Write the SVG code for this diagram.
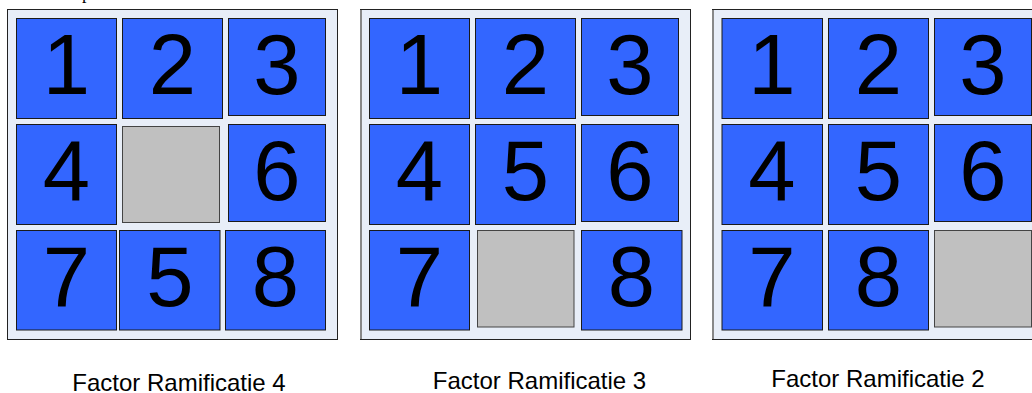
<svg xmlns="http://www.w3.org/2000/svg" width="1032" height="393" viewBox="0 0 1032 393">
<style>
.board{fill:#E8EEF8;stroke:#222;stroke-width:1}
.edge{stroke:#888;stroke-width:2}
.tile{fill:#3366FF;stroke:#1a1a1a;stroke-width:1}
.blank{fill:#C0C0C0;stroke:#444;stroke-width:1}
.num{font-family:"Liberation Sans",Arial,sans-serif;font-size:85px;fill:#000;text-anchor:middle}
.lbl{font-family:"Liberation Sans",Arial,sans-serif;font-size:24px;fill:#000;text-anchor:middle}
</style>
<rect width="1032" height="393" fill="#fff"/>
<text x="82" y="-1" font-family="Liberation Serif,serif" font-size="18" fill="#000">p</text>

<g id="board1">
<rect class="board" x="7.5" y="9.5" width="330" height="330"/>
<g id="b1t1"><rect class="tile" x="16.5" y="18.5" width="100" height="100"/><text class="num" x="66.5" y="94">1</text></g>
<g id="b1t2"><rect class="tile" x="122.5" y="18.5" width="100" height="100"/><text class="num" x="172.5" y="94">2</text></g>
<g id="b1t3"><rect class="tile" x="228.5" y="18.5" width="97" height="97"/><text class="num" x="277" y="94">3</text></g>
<g id="b1t4"><rect class="tile" x="16.5" y="124.5" width="100" height="100"/><text class="num" x="66.5" y="200">4</text></g>
<g id="b1blank"><rect class="blank" x="122.5" y="126.5" width="97" height="96"/></g>
<g id="b1t6"><rect class="tile" x="228.5" y="124.5" width="97" height="97"/><text class="num" x="277" y="200">6</text></g>
<g id="b1t7"><rect class="tile" x="16.5" y="230.5" width="100" height="99.5"/><text class="num" x="66.5" y="306">7</text></g>
<g id="b1t5"><rect class="tile" x="119.5" y="230.5" width="100.5" height="99.5"/><text class="num" x="170" y="306">5</text></g>
<g id="b1t8"><rect class="tile" x="225.5" y="230.5" width="100" height="99.5"/><text class="num" x="275.5" y="306">8</text></g>
</g>

<g id="board2">
<rect class="board" x="360.5" y="9.5" width="330" height="330"/>
<line class="edge" x1="361" y1="10" x2="361" y2="339"/>
<g id="b2t1"><rect class="tile" x="369.5" y="18.5" width="100" height="100"/><text class="num" x="419.5" y="94">1</text></g>
<g id="b2t2"><rect class="tile" x="475.5" y="18.5" width="100" height="100"/><text class="num" x="525.5" y="94">2</text></g>
<g id="b2t3"><rect class="tile" x="581.5" y="18.5" width="97" height="97"/><text class="num" x="630" y="94">3</text></g>
<g id="b2t4"><rect class="tile" x="369.5" y="124.5" width="100" height="100"/><text class="num" x="419.5" y="200">4</text></g>
<g id="b2t5"><rect class="tile" x="475.5" y="124.5" width="100" height="100"/><text class="num" x="525.5" y="200">5</text></g>
<g id="b2t6"><rect class="tile" x="581.5" y="124.5" width="97" height="97"/><text class="num" x="630" y="200">6</text></g>
<g id="b2t7"><rect class="tile" x="369.5" y="230.5" width="100" height="99.5"/><text class="num" x="419.5" y="306">7</text></g>
<g id="b2blank"><rect class="blank" x="477.5" y="230.5" width="96.5" height="96.5"/></g>
<g id="b2t8"><rect class="tile" x="581.5" y="230.5" width="100.5" height="99.5"/><text class="num" x="631.5" y="306">8</text></g>
</g>

<g id="board3">
<rect class="board" x="712.5" y="9.5" width="330" height="330"/>
<line class="edge" x1="713" y1="10" x2="713" y2="339"/>
<g id="b3t1"><rect class="tile" x="722" y="18.5" width="100.5" height="100"/><text class="num" x="772" y="94">1</text></g>
<g id="b3t2"><rect class="tile" x="828.5" y="18.5" width="100" height="100"/><text class="num" x="878.5" y="94">2</text></g>
<g id="b3t3"><rect class="tile" x="934.5" y="18.5" width="97" height="97"/><text class="num" x="983" y="94">3</text></g>
<g id="b3t4"><rect class="tile" x="722" y="124.5" width="100.5" height="100"/><text class="num" x="772" y="200">4</text></g>
<g id="b3t5"><rect class="tile" x="828.5" y="124.5" width="100" height="100"/><text class="num" x="878.5" y="200">5</text></g>
<g id="b3t6"><rect class="tile" x="934.5" y="124.5" width="97" height="97"/><text class="num" x="983" y="200">6</text></g>
<g id="b3t7"><rect class="tile" x="722" y="230.5" width="100.5" height="99.5"/><text class="num" x="772" y="306">7</text></g>
<g id="b3t8"><rect class="tile" x="828.5" y="230.5" width="100" height="99.5"/><text class="num" x="878.5" y="306">8</text></g>
<g id="b3blank"><rect class="blank" x="934.5" y="230.5" width="97" height="96.5"/></g>
</g>

<g id="labels">
<text class="lbl" x="179" y="390.5">Factor Ramificatie 4</text>
<text class="lbl" x="539.5" y="389">Factor Ramificatie 3</text>
<text class="lbl" x="878" y="387">Factor Ramificatie 2</text>
</g>
<g id="connectors"></g>
</svg>
